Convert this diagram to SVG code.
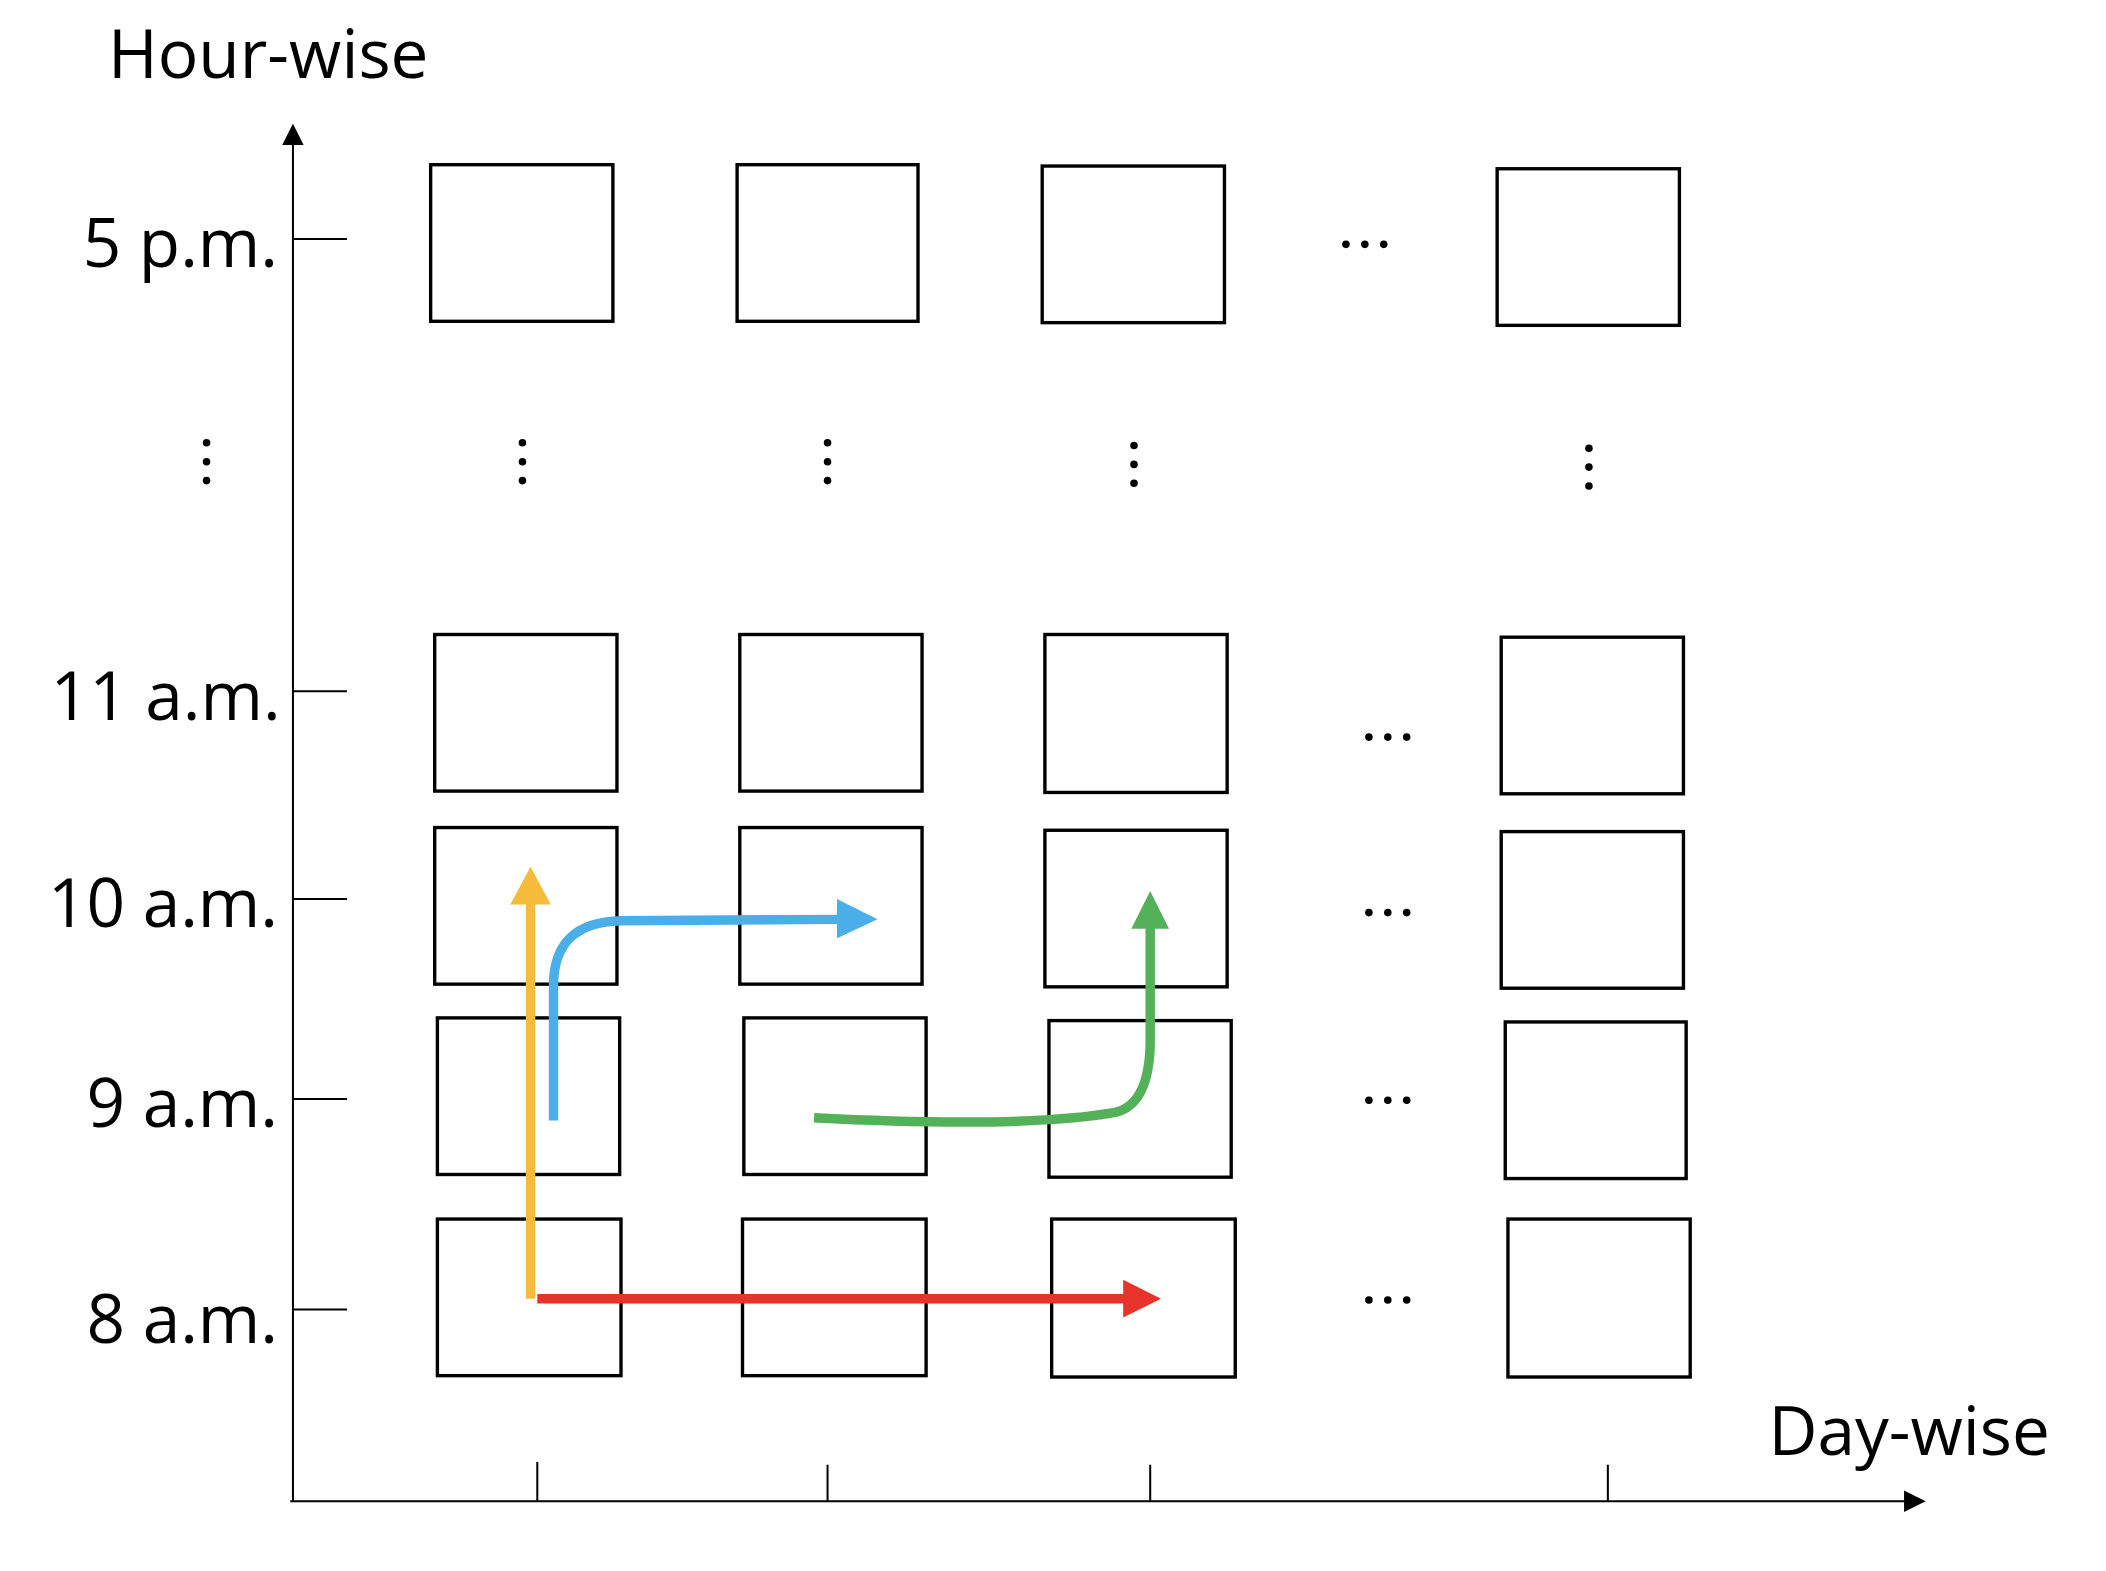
<svg xmlns="http://www.w3.org/2000/svg" width="2106" height="1571" viewBox="0 0 2106 1571">
<style>
.b{fill:none;stroke:#000;stroke-width:2.5}
.ax{stroke:#000;stroke-width:1.5;fill:none}
.t{font-family:"Open Sans","Liberation Sans",sans-serif;font-size:50px;fill:#000}
.d{font-family:"Liberation Sans",sans-serif;font-size:40px;font-weight:bold;fill:#000}
.a{fill:none;stroke-width:7}
</style>
<defs>
<marker id="mk" viewBox="0 0 10 10" refX="1" refY="5" markerWidth="16" markerHeight="16" markerUnits="userSpaceOnUse" orient="auto"><path d="M0,0L10,5L0,10z" fill="#000"/></marker>
</defs>
<rect width="2106" height="1571" fill="#fff"/>
<g transform="scale(1.35)">
<g id="axes">
<line class="ax" x1="217" y1="1112" x2="217" y2="106" marker-end="url(#mk)"/>
<line class="ax" x1="215" y1="1112" x2="1412" y2="1112" marker-end="url(#mk)"/>
<path class="ax" d="M217,177H257M217,512H257M217,666H257M217,814H257M217,970H257M398,1083V1112M613,1085V1112M852,1085V1112M1191,1085V1112"/>
</g>
<g id="labels">
<text class="t" x="80" y="58">Hour-wise</text>
<text class="t" x="1310" y="1078">Day-wise</text>
<g text-anchor="end">
<text class="t" x="206" y="198">5 p.m.</text>
<text class="t" x="208" y="533">11 a.m.</text>
<text class="t" x="206" y="687">10 a.m.</text>
<text class="t" x="206" y="835">9 a.m.</text>
<text class="t" x="206" y="995">8 a.m.</text>
</g>
</g>
<g id="boxes">
<rect class="b" x="319" y="122" width="135" height="116"/><rect class="b" x="546" y="122" width="134" height="116"/><rect class="b" x="772" y="123" width="135" height="116"/><rect class="b" x="1109" y="125" width="135" height="116"/>
<rect class="b" x="322" y="470" width="135" height="116"/><rect class="b" x="548" y="470" width="135" height="116"/><rect class="b" x="774" y="470" width="135" height="117"/><rect class="b" x="1112" y="472" width="135" height="116"/>
<rect class="b" x="322" y="613" width="135" height="116"/><rect class="b" x="548" y="613" width="135" height="116"/><rect class="b" x="774" y="615" width="135" height="116"/><rect class="b" x="1112" y="616" width="135" height="116"/>
<rect class="b" x="324" y="754" width="135" height="116"/><rect class="b" x="551" y="754" width="135" height="116"/><rect class="b" x="777" y="756" width="135" height="116"/><rect class="b" x="1115" y="757" width="134" height="116"/>
<rect class="b" x="324" y="903" width="136" height="116"/><rect class="b" x="550" y="903" width="136" height="116"/><rect class="b" x="779" y="903" width="136" height="117"/><rect class="b" x="1117" y="903" width="135" height="117"/>
</g>
<g id="dots" fill="#000">
<g id="hdots">
<circle cx="997" cy="181" r="2.8"/><circle cx="1011" cy="181" r="2.8"/><circle cx="1025" cy="181" r="2.8"/>
<circle cx="1014" cy="546" r="2.8"/><circle cx="1028" cy="546" r="2.8"/><circle cx="1042" cy="546" r="2.8"/>
<circle cx="1014" cy="676" r="2.8"/><circle cx="1028" cy="676" r="2.8"/><circle cx="1042" cy="676" r="2.8"/>
<circle cx="1014" cy="815" r="2.8"/><circle cx="1028" cy="815" r="2.8"/><circle cx="1042" cy="815" r="2.8"/>
<circle cx="1014" cy="963" r="2.8"/><circle cx="1028" cy="963" r="2.8"/><circle cx="1042" cy="963" r="2.8"/>
</g>
<g id="vdots">
<circle cx="153" cy="328" r="2.8"/><circle cx="153" cy="342" r="2.8"/><circle cx="153" cy="356" r="2.8"/>
<circle cx="387" cy="328" r="2.8"/><circle cx="387" cy="342" r="2.8"/><circle cx="387" cy="356" r="2.8"/>
<circle cx="613" cy="328" r="2.8"/><circle cx="613" cy="342" r="2.8"/><circle cx="613" cy="356" r="2.8"/>
<circle cx="840" cy="330" r="2.8"/><circle cx="840" cy="344" r="2.8"/><circle cx="840" cy="358" r="2.8"/>
<circle cx="1177" cy="332" r="2.8"/><circle cx="1177" cy="346" r="2.8"/><circle cx="1177" cy="360" r="2.8"/>
</g>
</g>
<g id="connectors">
<path class="a" stroke="#F5BB3B" d="M393,962V666"/><path fill="#F5BB3B" d="M378,670L393,642L408,670z"/>
<path class="a" stroke="#E8332A" d="M398,962H836"/><path fill="#E8332A" d="M832,948L860,962L832,976z"/>
<path class="a" stroke="#4AAEE8" d="M410,830V730Q410,683 460,682L624,681"/><path fill="#4AAEE8" d="M620,666L650,681L620,695z"/>
<path class="a" stroke="#55B05A" d="M603,828C700,833 780,832 826,824Q852,818 852,770V684"/><path fill="#55B05A" d="M838,688L852,660L866,688z"/>
</g>
</g>
</svg>
